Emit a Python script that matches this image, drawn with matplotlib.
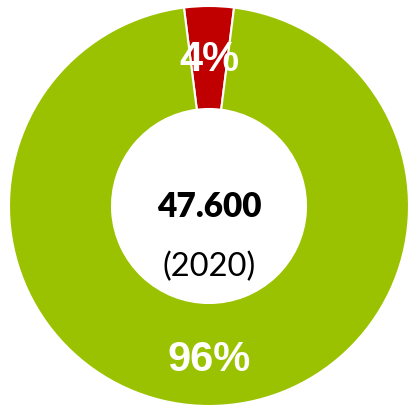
import matplotlib
matplotlib.use("Agg")
import matplotlib.pyplot as plt

labels = ["Rot", "Grün"]
shares = [4, 96]
colors = ["#C00000", "#9BC200"]
pct_labels = ["4%", "96%"]
center_value = "47.600"
center_year = "(2020)"

fig = plt.figure(figsize=(4.09, 4.06), dpi=100)
ax = fig.add_axes([9/409, -1/406, 400/409, 400/406])

start = 90 + shares[0] / 100 * 360 / 2
ax.pie(shares, colors=colors, radius=1, startangle=start, counterclock=False,
       wedgeprops=dict(width=0.515, edgecolor="white", linewidth=1.5))
ax.set_xlim(-1, 1)
ax.set_ylim(-1, 1)
ax.set_aspect("equal")
ax.axis("off")

ax.text(0, 0.735, pct_labels[0], ha="center", va="center", color="white",
        fontsize=30, fontweight="bold", family="Liberation Sans")
ax.text(0, -0.765, pct_labels[1], ha="center", va="center", color="white",
        fontsize=30, fontweight="bold", family="Liberation Sans")
ax.text(0, 0.0, center_value, ha="center", va="center", color="black",
        fontsize=24, fontweight="heavy", family="Lato")
ax.text(0, -0.3, center_year, ha="center", va="center", color="black",
        fontsize=23.5, family="Lato")

fig.savefig("out.png", dpi=100)
